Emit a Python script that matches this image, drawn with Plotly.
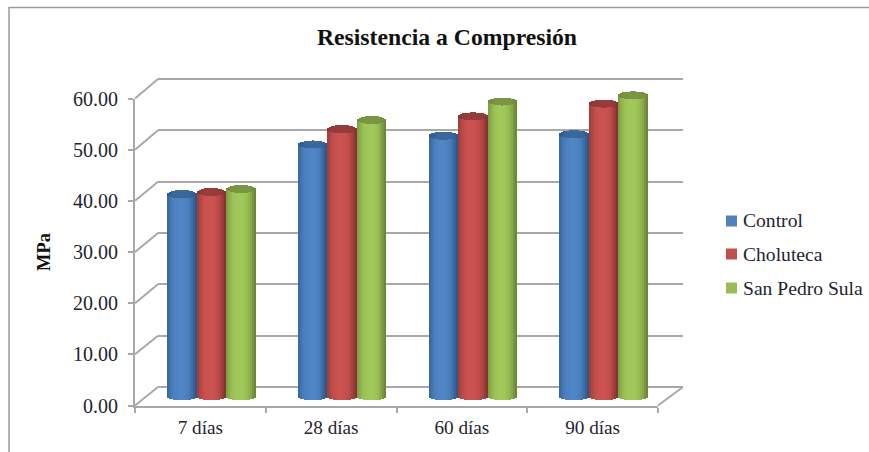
import plotly.graph_objects as go

W, H = 869, 452
SERIF = "Liberation Serif"
TEXT = "#1f2430"
GRID = "#a8a8a8"

categories = ["7 días", "28 días", "60 días", "90 días"]
series_names = ["Control", "Choluteca", "San Pedro Sula"]
control = [39.5, 49.2, 50.9, 51.2]
choluteca = [39.9, 52.2, 54.7, 57.2]
san_pedro_sula = [40.5, 54.0, 57.6, 58.8]
y_ticks = [0, 10, 20, 30, 40, 50, 60]
y_title = "MPa"
chart_title = "Resistencia a Compresión"

series_values = [control, choluteca, san_pedro_sula]
light = [(80, 133, 198), (203, 82, 80), (161, 200, 91)]
edge = [(44, 88, 136), (134, 52, 50), (108, 136, 56)]
cap = [(58, 104, 156), (150, 60, 58), (122, 150, 66)]
legend_colors = ["#4f81bd", "#c0504d", "#9bbb59"]


def px(x):
    return x / W


def py(y):
    return 1 - y / H


def rgb(c):
    return "rgb(%d,%d,%d)" % tuple(round(v) for v in c)


def mix(a, b, t):
    return tuple(p + (q - p) * t for p, q in zip(a, b))


# front plane, back wall, and the mid-depth plane where the cylinders stand
FRONT = dict(l=135, r=658, t=98.5, b=405.5)
BACK = dict(l=158, r=683, t=79, b=387)
MID = dict(l=146, r=669, t=89, b=396)

n_cat = len(categories)
x_pos = list(range(n_cat))
x_range = [-0.5, n_cat - 0.5]
y_range = [y_ticks[0], y_ticks[-1]]
PAD = 2  # data units of slack so edge gridlines and round ends are not clipped


def padded(plane):
    """Axis range and y domain for a plane, widened by PAD at both ends."""
    per_unit = (plane["b"] - plane["t"]) / (y_range[1] - y_range[0])
    return ([y_range[0] - PAD, y_range[1] + PAD],
            [py(plane["b"] + PAD * per_unit), py(plane["t"] - PAD * per_unit)])


back_range, back_domain = padded(BACK)
mid_range, mid_domain = padded(MID)

cyl_w = 0.2256
ell = 4.0 / ((MID["b"] - MID["t"]) / (y_range[1] - y_range[0]))
STRIPS = 15

fig = go.Figure()

for s, (name, vals) in enumerate(zip(series_names, series_values)):
    centre = [p + (s - 1) * cyl_w for p in x_pos]
    sw = cyl_w / STRIPS
    for k in range(STRIPS):
        u = -1 + (2 * k + 1) / STRIPS
        dy = ell * (1 - u * u) ** 0.5
        shade = 1 - abs(u + 0.1) ** 2.6
        offs = [c + (k - STRIPS / 2) * sw for c in centre]
        # body with rounded bottom and the front arc of the cap
        fig.add_trace(go.Bar(
            x=offs, y=vals, base=[-dy] * n_cat,
            width=sw * 1.02, offset=0,
            xaxis="x3", yaxis="y3",
            marker=dict(color=rgb(mix(edge[s], light[s], max(shade, 0))), line_width=0),
            name=name, showlegend=False, hoverinfo="skip",
        ))
        # darker top face of the cylinder
        fig.add_trace(go.Bar(
            x=offs, y=[2 * dy] * n_cat, base=[v - dy for v in vals],
            width=sw * 1.02, offset=0,
            xaxis="x3", yaxis="y3",
            marker=dict(color=rgb(mix(cap[s], edge[s], abs(u) ** 3)), line_width=0),
            name=name, showlegend=False, hoverinfo="skip",
        ))

# invisible carriers so the front and back axes exist
fig.add_trace(go.Scatter(x=x_pos, y=y_ticks[:n_cat], xaxis="x", yaxis="y", mode="none",
                         showlegend=False, hoverinfo="skip"))
fig.add_trace(go.Scatter(x=x_pos, y=y_ticks[:n_cat], xaxis="x2", yaxis="y2", mode="none",
                         showlegend=False, hoverinfo="skip"))

shapes = []
line = dict(color=GRID, width=2)
# frame of the chart area
shapes.append(dict(type="path", xref="paper", yref="paper", line=dict(color="#9c9c9c", width=1.5),
                   path="M %f,%f L %f,%f L %f,%f" % (px(9), py(H), px(9), py(7.5), px(W), py(7.5))))
# depth lines from the front axis to the back wall
pitch_front = (FRONT["b"] - FRONT["t"]) / (len(y_ticks) - 1)
pitch_back = (BACK["b"] - BACK["t"]) / (len(y_ticks) - 1)
for i in range(len(y_ticks)):
    shapes.append(dict(type="line", xref="paper", yref="paper", line=line,
                       x0=px(FRONT["l"]), y0=py(FRONT["b"] - i * pitch_front),
                       x1=px(BACK["l"]), y1=py(BACK["b"] - i * pitch_back)))
shapes.append(dict(type="line", xref="paper", yref="paper", line=line,
                   x0=px(FRONT["r"]), y0=py(FRONT["b"]), x1=px(BACK["r"]), y1=py(BACK["b"])))

# legend keys and labels
annotations = []
legend_y = [221, 254, 288]
for name, col, ly in zip(series_names, legend_colors, legend_y):
    shapes.append(dict(type="rect", xref="paper", yref="paper", fillcolor=col, line_width=0,
                       x0=px(726), x1=px(737), y0=py(ly + 5.5), y1=py(ly - 5.5)))
    annotations.append(dict(text=name, xref="paper", yref="paper", showarrow=False,
                            x=px(741), y=py(ly), xanchor="left", yanchor="middle",
                            font=dict(family=SERIF, size=19.6, color=TEXT)))

fig.update_layout(
    width=W, height=H, autosize=False,
    margin=dict(l=0, r=0, t=0, b=0, autoexpand=False),
    paper_bgcolor="white", plot_bgcolor="rgba(0,0,0,0)",
    barmode="overlay", bargap=0, showlegend=False,
    shapes=shapes, annotations=annotations,
    title=dict(text=chart_title, x=px(447), y=py(37), xanchor="center", yanchor="middle",
               font=dict(family=SERIF, size=23.7, color="#111", weight="bold")),
    xaxis=dict(domain=[px(FRONT["l"]), px(FRONT["r"])], range=x_range, anchor="y",
               tickmode="array", tickvals=x_pos, ticktext=categories, ticks="outside", ticklen=0,
               ticklabelstandoff=3, tickfont=dict(family=SERIF, size=19.2, color=TEXT),
               showgrid=False, zeroline=False, showline=True, linecolor=GRID, linewidth=2,
               minor=dict(tickmode="array", tickvals=[p - 0.5 for p in x_pos] + [n_cat - 0.5],
                          ticks="outside", ticklen=5, tickcolor=GRID, tickwidth=1.5, showgrid=False)),
    yaxis=dict(domain=[py(FRONT["b"]), py(FRONT["t"])], range=y_range, anchor="x",
               tickmode="array", tickvals=y_ticks, ticktext=["%.2f" % t for t in y_ticks],
               ticks="outside", ticklen=5, tickcolor=GRID, tickwidth=1.5, ticklabelstandoff=6,
               tickfont=dict(family=SERIF, size=20, color=TEXT), showgrid=False, zeroline=False,
               showline=True, linecolor=GRID, linewidth=2,
               title=dict(text="<b>%s</b>" % y_title, standoff=18,
                          font=dict(family=SERIF, size=18.5, color="#111"))),
    xaxis2=dict(domain=[px(BACK["l"]), px(BACK["r"])], range=x_range, anchor="y2", visible=False),
    yaxis2=dict(domain=back_domain, range=back_range, anchor="x2",
                tickmode="array", tickvals=y_ticks, showticklabels=False, ticks="",
                showgrid=True, gridcolor=GRID, gridwidth=2, zeroline=False, showline=False),
    xaxis3=dict(domain=[px(MID["l"]), px(MID["r"])], range=x_range, anchor="y3", visible=False),
    yaxis3=dict(domain=mid_domain, range=mid_range, anchor="x3", visible=False),
)

fig.write_html("out.html", config=dict(displayModeBar=False),
               post_script="document.body.style.margin='0';")
